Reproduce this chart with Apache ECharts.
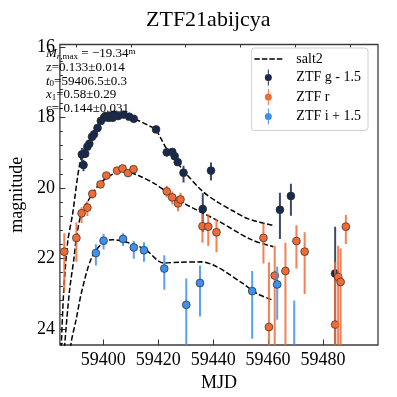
<!DOCTYPE html>
<html>
<head>
<meta charset="utf-8">
<script src="https://cdn.jsdelivr.net/npm/echarts@6/dist/echarts.min.js"></script>
<style>
  html, body { margin: 0; padding: 0; background: #fff; }
  #main { width: 397px; height: 397px; }
</style>
</head>
<body>
<div id="main"></div>
<script>
// photometry as plotted: [mjd, mag, err toward bright, err toward faint]
const gPoints = [
  [59392.2, 19.05, 0.18, 0.30], [59393.4, 19.03, 0.10, 0.12], [59392.8, 19.35, 0.15, 0.18],
  [59394.2, 18.83, 0.08, 0.09], [59394.9, 18.75, 0.07, 0.08], [59395.9, 18.55, 0.06, 0.07],
  [59396.6, 18.48, 0.06, 0.06], [59397.9, 18.30, 0.05, 0.05], [59399.1, 18.10, 0.05, 0.05],
  [59400.2, 18.01, 0.04, 0.04], [59400.8, 17.96, 0.04, 0.04], [59401.9, 18.01, 0.04, 0.04],
  [59402.5, 17.95, 0.04, 0.04], [59403.4, 18.01, 0.04, 0.04], [59403.9, 17.92, 0.04, 0.04],
  [59405.4, 17.96, 0.04, 0.04], [59407.4, 17.92, 0.04, 0.04], [59409.4, 17.98, 0.04, 0.04],
  [59411.1, 18.04, 0.05, 0.05], [59419.2, 18.34, 0.06, 0.06], [59423.1, 18.99, 0.11, 0.12],
  [59425.1, 18.98, 0.08, 0.09], [59426.0, 19.10, 0.08, 0.09], [59427.1, 19.27, 0.09, 0.10],
  [59429.2, 19.57, 0.20, 0.28], [59436.2, 20.60, 0.45, 0.65], [59439.2, 19.51, 0.23, 0.28],
  [59464.3, 20.62, 0.48, 0.83], [59468.3, 20.23, 0.35, 0.56], [59484.4, 22.43, 1.33, 3.0]
];
const rPoints = [
  [59385.8, 21.81, 0.52, 1.15], [59390.2, 21.42, 0.44, 0.68], [59392.1, 20.72, 0.17, 0.28],
  [59394.2, 20.56, 0.18, 0.24], [59396.0, 20.17, 0.12, 0.14], [59399.0, 19.90, 0.08, 0.09],
  [59401.1, 19.65, 0.06, 0.07], [59405.0, 19.51, 0.05, 0.05], [59407.0, 19.45, 0.05, 0.05],
  [59409.0, 19.58, 0.05, 0.05], [59411.0, 19.47, 0.05, 0.05], [59423.1, 20.10, 0.16, 0.17],
  [59425.1, 20.27, 0.17, 0.20], [59427.2, 20.44, 0.20, 0.22], [59428.1, 20.33, 0.19, 0.20],
  [59436.1, 21.09, 0.35, 0.47], [59438.2, 21.10, 0.35, 0.55], [59441.2, 21.26, 0.38, 0.57],
  [59458.3, 21.42, 0.41, 0.73], [59460.3, 23.95, 1.84, 3.0], [59462.4, 22.49, 0.85, 3.0],
  [59466.3, 22.36, 0.80, 3.0], [59470.3, 21.51, 0.45, 0.78], [59473.3, 21.81, 0.55, 1.20],
  [59484.4, 23.88, 1.78, 3.0], [59485.5, 22.53, 0.89, 3.0], [59486.4, 22.67, 0.95, 3.0],
  [59488.3, 21.10, 0.33, 0.49]
];
const iPoints = [
  [59397.3, 21.85, 0.25, 0.35], [59400.1, 21.50, 0.20, 0.25], [59407.2, 21.45, 0.16, 0.20],
  [59411.1, 21.69, 0.18, 0.32], [59414.8, 21.77, 0.23, 0.33], [59422.2, 22.29, 0.38, 0.60],
  [59430.2, 23.32, 0.75, 3.0], [59435.2, 22.70, 0.50, 0.95], [59454.2, 22.93, 0.57, 1.35],
  [59463.3, 22.74, 0.50, 1.00], [59469.5, 24.90, 1.70, 3.0]
];

// salt2 model curves [mjd, mag]
const gModel = [
  [59384.4, 25.0], [59384.7, 24.46], [59385.6, 22.92], [59387.0, 21.56], [59388.8, 20.75],
  [59391.9, 19.15], [59395.6, 18.51], [59399.1, 18.14], [59403.7, 17.98], [59409.3, 18.00],
  [59412.5, 18.08], [59417.0, 18.25], [59419.2, 18.36], [59421.0, 18.60], [59423.1, 18.90],
  [59427.1, 19.30], [59429.9, 19.58], [59436.2, 20.10], [59441.5, 20.40], [59447.1, 20.65],
  [59452.8, 20.88], [59462.5, 21.08]
];
const rModel = [
  [59385.7, 25.0], [59385.95, 24.46], [59387.7, 22.92], [59389.3, 22.01], [59390.2, 21.42],
  [59392.1, 20.72], [59396.1, 20.16], [59399.2, 19.84], [59403.7, 19.60], [59408.2, 19.54],
  [59412.8, 19.65], [59418.5, 19.87], [59421.9, 20.05], [59429.9, 20.46], [59441.4, 20.92],
  [59453.9, 21.47], [59461.9, 21.67]
];
const iModel = [
  [59388.0, 25.0], [59388.2, 24.46], [59390.1, 23.74], [59392.2, 22.92], [59395.6, 22.01],
  [59399.7, 21.56], [59403.4, 21.47], [59407.1, 21.51], [59415.1, 21.74], [59421.9, 22.13],
  [59427.7, 22.11], [59435.7, 22.10], [59441.4, 22.24], [59450.5, 22.70], [59456.2, 23.01],
  [59461.9, 23.19]
];

const xMajor = [59400, 59420, 59440, 59460, 59480];
const xMinor = [59390, 59410, 59430, 59450, 59470, 59490];
const yMajor = [16, 18, 20, 22, 24];
const yMinor = [16.4, 16.8, 17.2, 17.6, 18.4, 18.8, 19.2, 19.6, 20.4, 20.8, 21.2, 21.6,
  22.4, 22.8, 23.2, 23.6, 24.4];

const colors = { g: '#172a4d', r: '#f26b35', i: '#3f8fef' };
const serif = 'Liberation Serif';
// legend glyphs: vertical error bar with a dot, and a four-dash line
const markerIcon = 'path://M4.4,0H5.6V20H4.4Z M0.6,10A4.4,4.4,0,1,1,9.4,10A4.4,4.4,0,1,1,0.6,10Z';
const dashIcon = 'path://M0,0H5.6V1.5H0Z M7.6,0H13.2V1.5H7.6Z M15.2,0H20.8V1.5H15.2Z M22.8,0H28.4V1.5H22.8Z';

function errorBars(color) {
  return function (params, api) {
    const x = api.value(0), y = api.value(1);
    const p = api.coord([x, y]);
    const a = api.coord([x, y - api.value(2)]);
    const b = api.coord([x, y + api.value(3)]);
    return {
      type: 'group',
      children: [
        { type: 'line', shape: { x1: a[0], y1: a[1], x2: b[0], y2: b[1] },
          style: { stroke: color, lineWidth: 2, opacity: 0.85 } },
        { type: 'circle', shape: { cx: p[0], cy: p[1], r: 3.9 },
          style: { fill: color, stroke: '#2a2a2a', lineWidth: 0.7 } }
      ]
    };
  };
}

function pointSeries(name, data, color) {
  return {
    type: 'custom',
    name: name,
    data: data,
    clip: true,
    z: 3,
    itemStyle: { color: color },
    encode: { x: 0, y: 1 },
    renderItem: errorBars(color)
  };
}

function modelSeries(data) {
  return {
    type: 'line',
    name: 'salt2',
    data: data,
    smooth: 0.3,
    showSymbol: false,
    symbol: 'none',
    clip: true,
    z: 2,
    itemStyle: { color: '#000' },
    lineStyle: { color: '#000', width: 1.5, type: [5.5, 2.4] }
  };
}

const chart = echarts.init(document.getElementById('main'));

const xBase = { type: 'value', min: 59384.2, max: 59500, splitLine: { show: false } };
const yBase = { type: 'value', min: 15.93, max: 24.46, inverse: true, splitLine: { show: false } };

const option = {
  animation: false,
  backgroundColor: '#fff',
  title: {
    text: 'ZTF21abijcya',
    left: 141,
    top: 4,
    textStyle: { fontFamily: serif, fontWeight: 'normal', fontSize: 22, color: '#000' }
  },
  grid: {
    left: 40, right: 19, top: 44.5, bottom: 40.5,
    show: true, borderColor: '#3c3c3c', borderWidth: 1.3, backgroundColor: 'transparent'
  },
  legend: {
    orient: 'vertical',
    right: 29,
    top: 48,
    padding: [4, 7, 6, 3],
    itemWidth: 28,
    itemHeight: 16,
    itemGap: 3.5,
    backgroundColor: 'rgba(255,255,255,0.85)',
    borderColor: '#d0d0d0',
    borderWidth: 1,
    borderRadius: 3,
    textStyle: { fontFamily: serif, fontSize: 14, color: '#000', padding: [0, 0, 0, 9] },
    data: [
      { name: 'salt2', icon: dashIcon, itemStyle: { color: '#000' } },
      { name: 'ZTF g - 1.5', icon: markerIcon },
      { name: 'ZTF r', icon: markerIcon },
      { name: 'ZTF i + 1.5', icon: markerIcon }
    ]
  },
  xAxis: [
    Object.assign({}, xBase, {
      name: 'MJD',
      nameLocation: 'middle',
      nameGap: 29,
      nameTextStyle: { fontFamily: serif, fontSize: 18, color: '#000' },
      axisLine: { show: false },
      axisTick: { inside: true, length: 5.5, customValues: xMajor, lineStyle: { color: '#333', width: 1 } },
      axisLabel: { customValues: xMajor, margin: 6, fontFamily: serif, fontSize: 18, color: '#000',
        formatter: function (v) { return String(v); } }
    }),
    Object.assign({}, xBase, {
      axisLine: { show: false },
      axisTick: { inside: true, length: 3, customValues: xMinor, lineStyle: { color: '#333', width: 1 } },
      axisLabel: { show: false }
    })
  ],
  yAxis: [
    Object.assign({}, yBase, {
      name: 'magnitude',
      nameLocation: 'middle',
      nameGap: 28,
      nameTextStyle: { fontFamily: serif, fontSize: 18, color: '#000' },
      axisLine: { show: false },
      axisTick: { inside: true, length: 5.5, customValues: yMajor, lineStyle: { color: '#333', width: 1 } },
      axisLabel: { customValues: yMajor, margin: 5, fontFamily: serif, fontSize: 18, color: '#000' }
    }),
    Object.assign({}, yBase, {
      position: 'left',
      axisLine: { show: false },
      axisTick: { inside: true, length: 3, customValues: yMinor, lineStyle: { color: '#333', width: 1 } },
      axisLabel: { show: false }
    })
  ],
  graphic: [
    {
      type: 'text',
      left: 46,
      top: 47,
      z: 10,
      style: {
        text: '{it|M}{subi|r}{sub|,max} = \u221219.34{sup|m}\nz=0.133\u00b10.014\n{it|t}{sub|0}=59406.5\u00b10.3\n{it|x}{sub|1}=0.58\u00b10.29\nc=-0.144\u00b10.031',
        font: '13px "Liberation Serif"',
        fill: '#000',
        lineHeight: 13.7,
        rich: {
          it: { fontFamily: serif, fontSize: 13, fontStyle: 'italic', lineHeight: 13.7 },
          subi: { fontFamily: serif, fontSize: 9, fontStyle: 'italic', verticalAlign: 'bottom', lineHeight: 8 },
          sub: { fontFamily: serif, fontSize: 9, verticalAlign: 'bottom', lineHeight: 8 },
          sup: { fontFamily: serif, fontSize: 9, verticalAlign: 'top', lineHeight: 8 }
        }
      }
    }
  ],
  series: [
    modelSeries(gModel),
    modelSeries(rModel),
    modelSeries(iModel),
    pointSeries('ZTF g - 1.5', gPoints, colors.g),
    pointSeries('ZTF r', rPoints, colors.r),
    pointSeries('ZTF i + 1.5', iPoints, colors.i)
  ]
};

chart.setOption(option);
</script>
</body>
</html>
